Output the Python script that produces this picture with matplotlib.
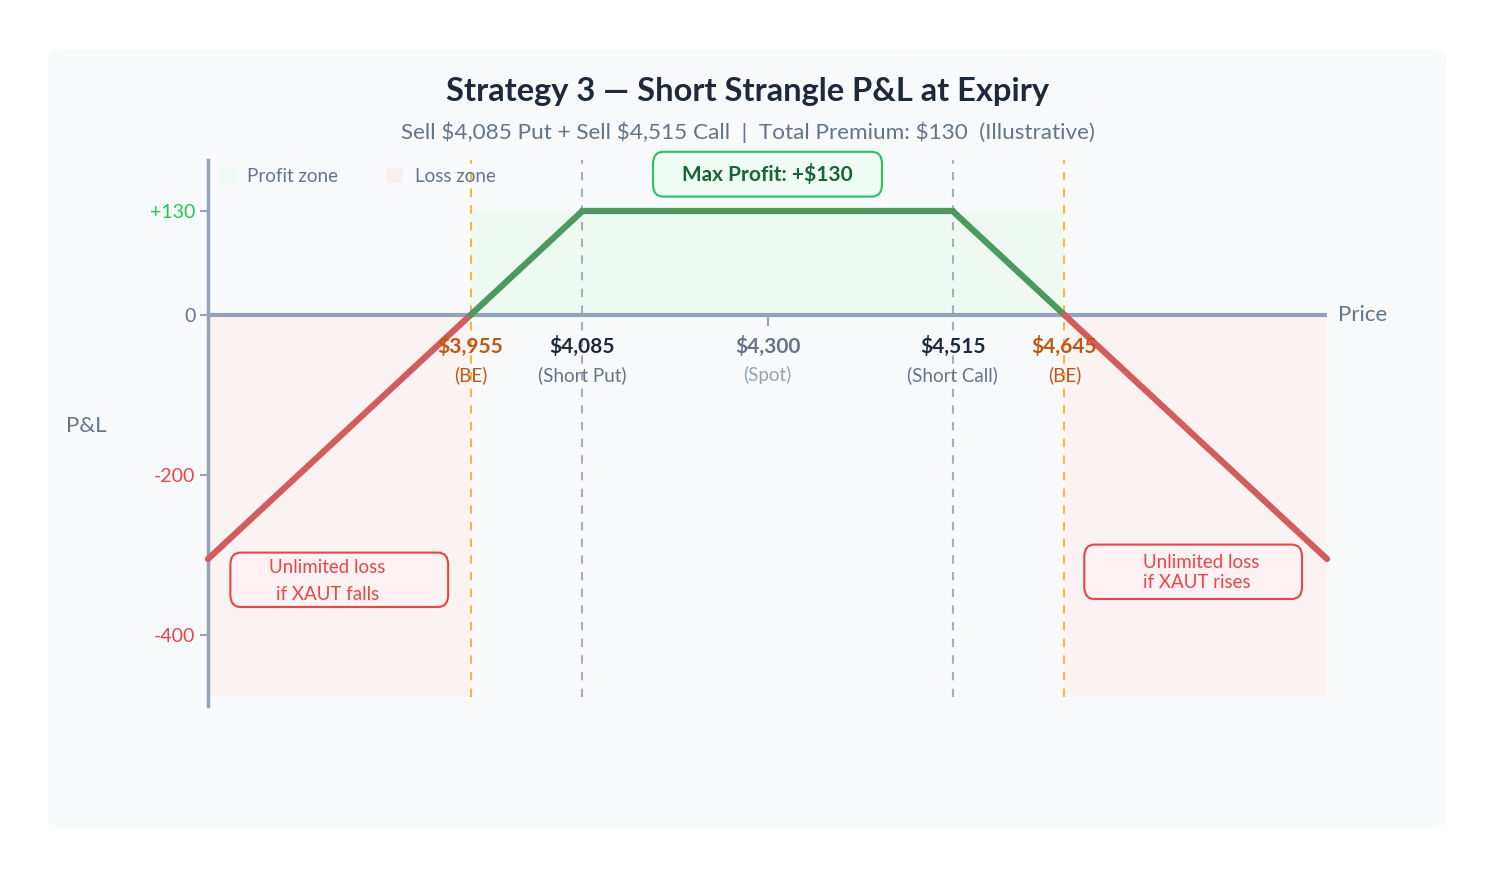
import matplotlib.pyplot as plt
from matplotlib.patches import FancyBboxPatch, Patch

plt.rcParams['font.family'] = ['Lato', 'DejaVu Sans']

# Payoff at expiry
prices = [3650, 3955, 4085, 4515, 4645, 4950]
pnl = [-305, 0, 130, 130, 0, -305]

put_strike = 4085
call_strike = 4515
spot = 4300
be_low = 3955
be_high = 4645
max_profit = 130
loss_floor = -478

ytick_vals = [130, 0, -200, -400]
ytick_text = ['+130', '0', '-200', '-400']
ytick_colors = ['#22c55e', '#64748b', '#ef4444', '#ef4444']

# x labels: (price, line 1, line 2, color 1, color 2)
x_labels = [
    (be_low, '\\$3,955', '(BE)', '#c2560f', '#c2560f'),
    (put_strike, '\\$4,085', '(Short Put)', '#1e293b', '#64748b'),
    (spot, '\\$4,300', '(Spot)', '#64748b', '#94a3b8'),
    (call_strike, '\\$4,515', '(Short Call)', '#1e293b', '#64748b'),
    (be_high, '\\$4,645', '(BE)', '#c2560f', '#c2560f'),
]

W, H = 1496, 876
fig = plt.figure(figsize=(W / 100, H / 100), dpi=100)
fig.patch.set_facecolor('white')

# rounded card behind everything
card = FancyBboxPatch((48 / W, 48 / H), 1399 / W, 779 / H,
                      boxstyle='round,pad=0,rounding_size=0.012',
                      transform=fig.transFigure, facecolor='#f8fafc',
                      edgecolor='none', zorder=-10)
fig.patches.append(card)

ax = fig.add_axes([208 / W, 1 - 706 / H, 1119 / W, 546 / H])
ax.set_facecolor('none')
ax.set_xlim(3650, 4950)
ax.set_ylim(-488.75, 193.75)

# zones
profit_fill = '#eefaf1'
loss_fill = '#fbf2f2'
ax.fill_between([be_low, be_high], 0, max_profit, color=profit_fill, lw=0, zorder=1)
ax.fill_between([prices[0], be_low], loss_floor, 0, color=loss_fill, lw=0, zorder=1)
ax.fill_between([be_high, prices[-1]], loss_floor, 0, color=loss_fill, lw=0, zorder=1)

# reference lines
top = ax.get_ylim()[1]
ax.vlines([be_low, be_high], loss_floor, top, colors='#f6b64a', linestyles=(0, (4, 4)), lw=1.5, zorder=2)
ax.vlines([put_strike, call_strike], loss_floor, top, colors='#a3afc2', linestyles=(0, (4, 4)), lw=1.5, zorder=2)

ax.axhline(0, color='#94a3b8', lw=3, zorder=3)
ax.plot([spot, spot], [0, -12], color='#94a3b8', lw=1.5, zorder=3)

# payoff segments
red = '#d45c5c'
green = '#4d995e'
seg_colors = [red, green, green, green, red]
for i in range(len(prices) - 1):
    ax.plot(prices[i:i + 2], pnl[i:i + 2], color=seg_colors[i], lw=4.5,
            solid_capstyle='round', zorder=4, clip_on=False)

# axes styling
for s in ['top', 'right', 'bottom']:
    ax.spines[s].set_visible(False)
ax.spines['left'].set_color('#94a3b8')
ax.spines['left'].set_linewidth(2.5)
ax.set_xticks([])
ax.set_yticks(ytick_vals)
ax.set_yticklabels(ytick_text)
ax.tick_params(axis='y', length=6, width=1.5, color='#94a3b8', pad=3, labelsize=14)
for lab, c in zip(ax.get_yticklabels(), ytick_colors):
    lab.set_color(c)

for x, t1, t2, c1, c2 in x_labels:
    ax.annotate(t1, xy=(x, 0), xytext=(0, -23), textcoords='offset points',
                ha='center', va='center', fontsize=15, fontweight='bold', color=c1, zorder=5)
    ax.annotate(t2, xy=(x, 0), xytext=(0, -43), textcoords='offset points',
                ha='center', va='center', fontsize=13.5, color=c2, zorder=5)

ax.annotate('Price', xy=(prices[-1], 0), xytext=(8, 0), textcoords='offset points',
            ha='left', va='center', fontsize=16, color='#64748b', annotation_clip=False)
fig.text(86 / W, 1 - 426 / H, 'P&L', ha='center', va='center', fontsize=16, color='#64748b')

# legend
handles = [Patch(facecolor='#eefbf2', edgecolor='none', label='Profit zone'),
           Patch(facecolor='#fdeeee', edgecolor='none', label='Loss zone')]
ax.legend(handles=handles, loc='upper left', bbox_to_anchor=(-0.004, 1.013), ncol=2,
          frameon=False, fontsize=13.5, handlelength=0.9, handleheight=0.9,
          handletextpad=0.6, columnspacing=2.6, labelcolor='#64748b', borderpad=0.3)

# max profit box
mp = FancyBboxPatch((spot - 133, 148), 266, 56, boxstyle='round,pad=0,rounding_size=12',
                    mutation_aspect=1.25, facecolor='#f0fdf4', edgecolor='#22c55e', lw=1.5,
                    zorder=6, clip_on=False)
ax.add_patch(mp)
ax.text(spot, 176, 'Max Profit: +\\$130', ha='center', va='center', fontsize=15,
        fontweight='bold', color='#166534', zorder=7)

# loss notes
box_style = dict(boxstyle='round,pad=0,rounding_size=12', mutation_aspect=1.25,
                 facecolor='#fef2f2', edgecolor='#ef4444', lw=1.5, zorder=6)
ax.add_patch(FancyBboxPatch((3676, -365), 253, 68, **box_style))
ax.text(3789, -332, 'Unlimited loss\nif XAUT falls', ha='center', va='center',
        fontsize=13.5, color='#ef4444', linespacing=1.7, zorder=7)
ax.add_patch(FancyBboxPatch((4668, -355), 253, 68, **box_style))
ax.text(4804, -322, 'Unlimited loss\nif XAUT rises', ha='center', va='center',
        multialignment='left', fontsize=13.5, color='#ef4444', linespacing=1.25, zorder=7)

fig.text(0.5, 1 - 92 / H, 'Strategy 3 — Short Strangle P&L at Expiry', ha='center', va='center',
         fontsize=23.5, fontweight='bold', color='#1e293b')
fig.text(0.5, 1 - 132 / H,
         'Sell \\$4,085 Put + Sell \\$4,515 Call  |  Total Premium: \\$130  (Illustrative)',
         ha='center', va='center', fontsize=16.2, color='#64748b')

fig.savefig('out.png', dpi=100)
